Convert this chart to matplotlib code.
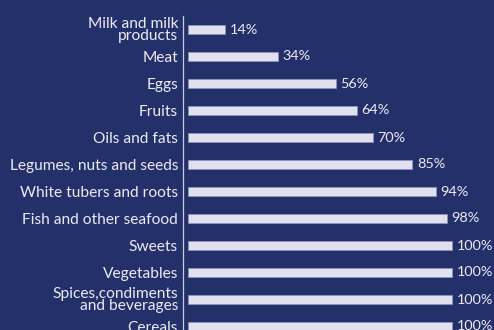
import matplotlib.pyplot as plt

# share of items per food group
groups = ["Milk and milk\nproducts", "Meat", "Eggs", "Fruits", "Oils and fats",
          "Legumes, nuts and seeds", "White tubers and roots",
          "Fish and other seafood", "Sweets", "Vegetables",
          "Spices,condiments\nand beverages", "Cereals"]
shares = [14, 34, 56, 64, 70, 85, 94, 98, 100, 100, 100, 100]
share_labels = ["14%", "34%", "56%", "64%", "70%", "85%", "94%", "98%",
                "100%", "100%", "100%", "100%"]

bg = "#23306a"
bar_col = "#e1e0ef"
txt_col = "#ecebf4"

plt.rcParams['font.family'] = ['Lato', 'DejaVu Sans']

fig = plt.figure(figsize=(4.94, 3.30), dpi=100)
fig.patch.set_facecolor(bg)
ax = fig.add_axes([183 / 494, -10 / 330, 311 / 494, 324 / 330])
ax.set_facecolor(bg)

pos = list(range(len(groups)))
ax.barh(pos, shares, height=0.36, color=bar_col, edgecolor="#8e93bb", linewidth=0.6)

for p, v, lab in zip(pos, shares, share_labels):
    ax.annotate(lab, (v, p), xytext=(3.2, 0), textcoords="offset points",
                va="center", ha="left", color=txt_col, fontsize=10.4)

ax.set_xlim(-1.9, 115.9)
ax.set_ylim(11.5, -0.5)
ax.set_yticks(pos)
ax.set_yticklabels(groups, fontsize=11.2, color=txt_col, linespacing=0.8)
ax.tick_params(axis="y", length=0, pad=3.6)
ax.set_xticks([])

for s in ["top", "right", "bottom"]:
    ax.spines[s].set_visible(False)
ax.spines["left"].set_color("#c9cade")
ax.spines["left"].set_linewidth(0.9)

fig.savefig("out.png", dpi=100, facecolor=bg)
